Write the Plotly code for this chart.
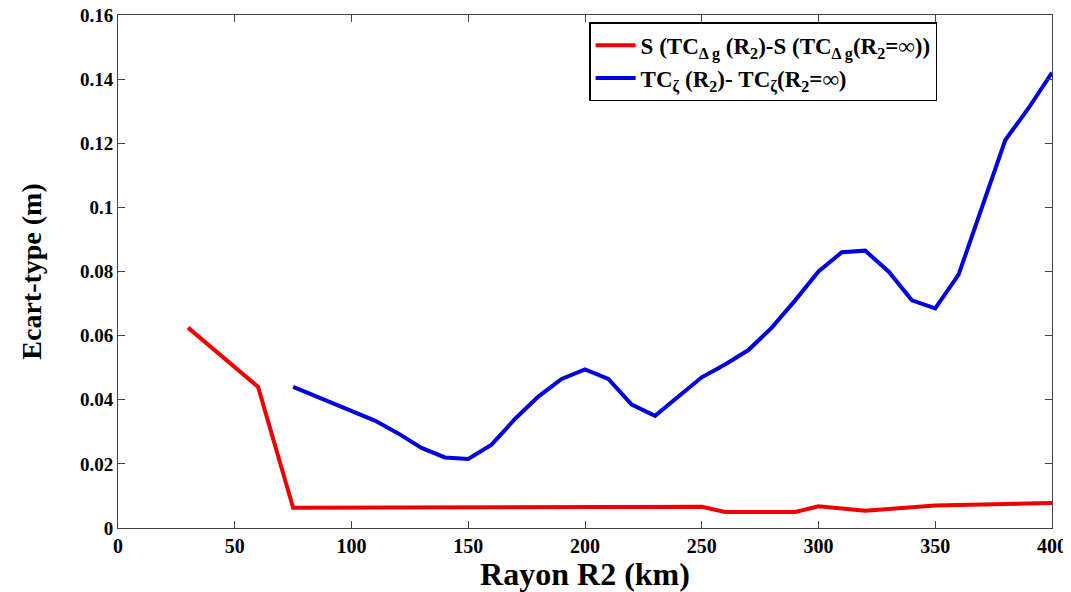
import plotly.graph_objects as go

# Data
red_x = [30, 60, 75, 100, 150, 190, 200, 210, 250, 260, 290, 300, 320, 340, 350, 400]
red_y = [0.0625, 0.044, 0.0063, 0.0063, 0.0063, 0.0064, 0.0064, 0.0066, 0.0066, 0.0050, 0.0050, 0.0068, 0.0054, 0.0065, 0.0070, 0.0078]

blue_x = [75, 80, 90, 100, 110, 120, 130, 140, 150, 160, 170, 180, 190, 200, 210, 220, 230,
          240, 250, 260, 270, 280, 290, 300, 310, 320, 330, 340, 350, 360, 370, 380, 390, 400]
blue_y = [0.044, 0.0425, 0.0395, 0.0365, 0.0335, 0.0295, 0.025, 0.022, 0.0215, 0.026, 0.034,
          0.041, 0.0465, 0.0495, 0.0465, 0.0385, 0.035, 0.041, 0.047, 0.051, 0.0555, 0.0625,
          0.071, 0.080, 0.086, 0.0865, 0.080, 0.071, 0.0685, 0.079, 0.100, 0.121, 0.131, 0.142]

x_ticks = [0, 50, 100, 150, 200, 250, 300, 350, 400]
y_ticks = [0, 0.02, 0.04, 0.06, 0.08, 0.1, 0.12, 0.14, 0.16]
y_tick_text = ["0", "0.02", "0.04", "0.06", "0.08", "0.1", "0.12", "0.14", "0.16"]

red_name = "S (TC<sub>\u0394 g</sub> (R<sub>2</sub>)-S (TC<sub>\u0394 g</sub>(R<sub>2</sub>=\u221e))"
blue_name = "TC<sub>\u03b6</sub> (R<sub>2</sub>)- TC<sub>\u03b6</sub>(R<sub>2</sub>=\u221e)"

serif = "Times New Roman, Liberation Serif, serif"

fig = go.Figure()
fig.add_trace(go.Scatter(x=red_x, y=red_y, mode="lines", name=red_name,
                         line=dict(color="#ee0000", width=4)))
fig.add_trace(go.Scatter(x=blue_x, y=blue_y, mode="lines", name=blue_name,
                         line=dict(color="#0000dd", width=4)))

# page body has an 8px margin, so the figure is offset by 8px
fig.update_layout(
    width=1063, height=584,
    margin=dict(l=110, r=19, t=7, b=64, autoexpand=False),
    paper_bgcolor="white", plot_bgcolor="white",
    font=dict(family=serif, color="black"),
    showlegend=True,
    legend=dict(x=0.877, y=0.986, xanchor="right", yanchor="top",
                bgcolor="white", bordercolor="black", borderwidth=1.5,
                font=dict(family=serif, size=23, color="black", weight="bold"),
                itemwidth=40, tracegroupgap=0, entrywidth=0),
    xaxis=dict(range=[0, 400], tickvals=x_ticks, ticks="inside", ticklen=7,
               showline=True, linecolor="#444", linewidth=1, mirror="ticks",
               showgrid=False, zeroline=False, automargin=False,
               ticklabeloverflow="allow",
               tickfont=dict(family=serif, size=20, weight="bold"),
               title=dict(text="Rayon R2 (km)", standoff=0,
                          font=dict(family=serif, size=32, weight="bold"))),
    yaxis=dict(range=[0, 0.16], tickvals=y_ticks, ticktext=y_tick_text, ticks="inside", ticklen=7,
               showline=True, linecolor="#444", linewidth=1, mirror="ticks",
               showgrid=False, zeroline=False, automargin=False,
               ticklabeloverflow="allow",
               tickfont=dict(family=serif, size=19, weight="bold"),
               title=dict(text="Ecart-type (m)", standoff=30,
                          font=dict(family=serif, size=28, weight="bold"))),
)

fig.write_html("out.html")
